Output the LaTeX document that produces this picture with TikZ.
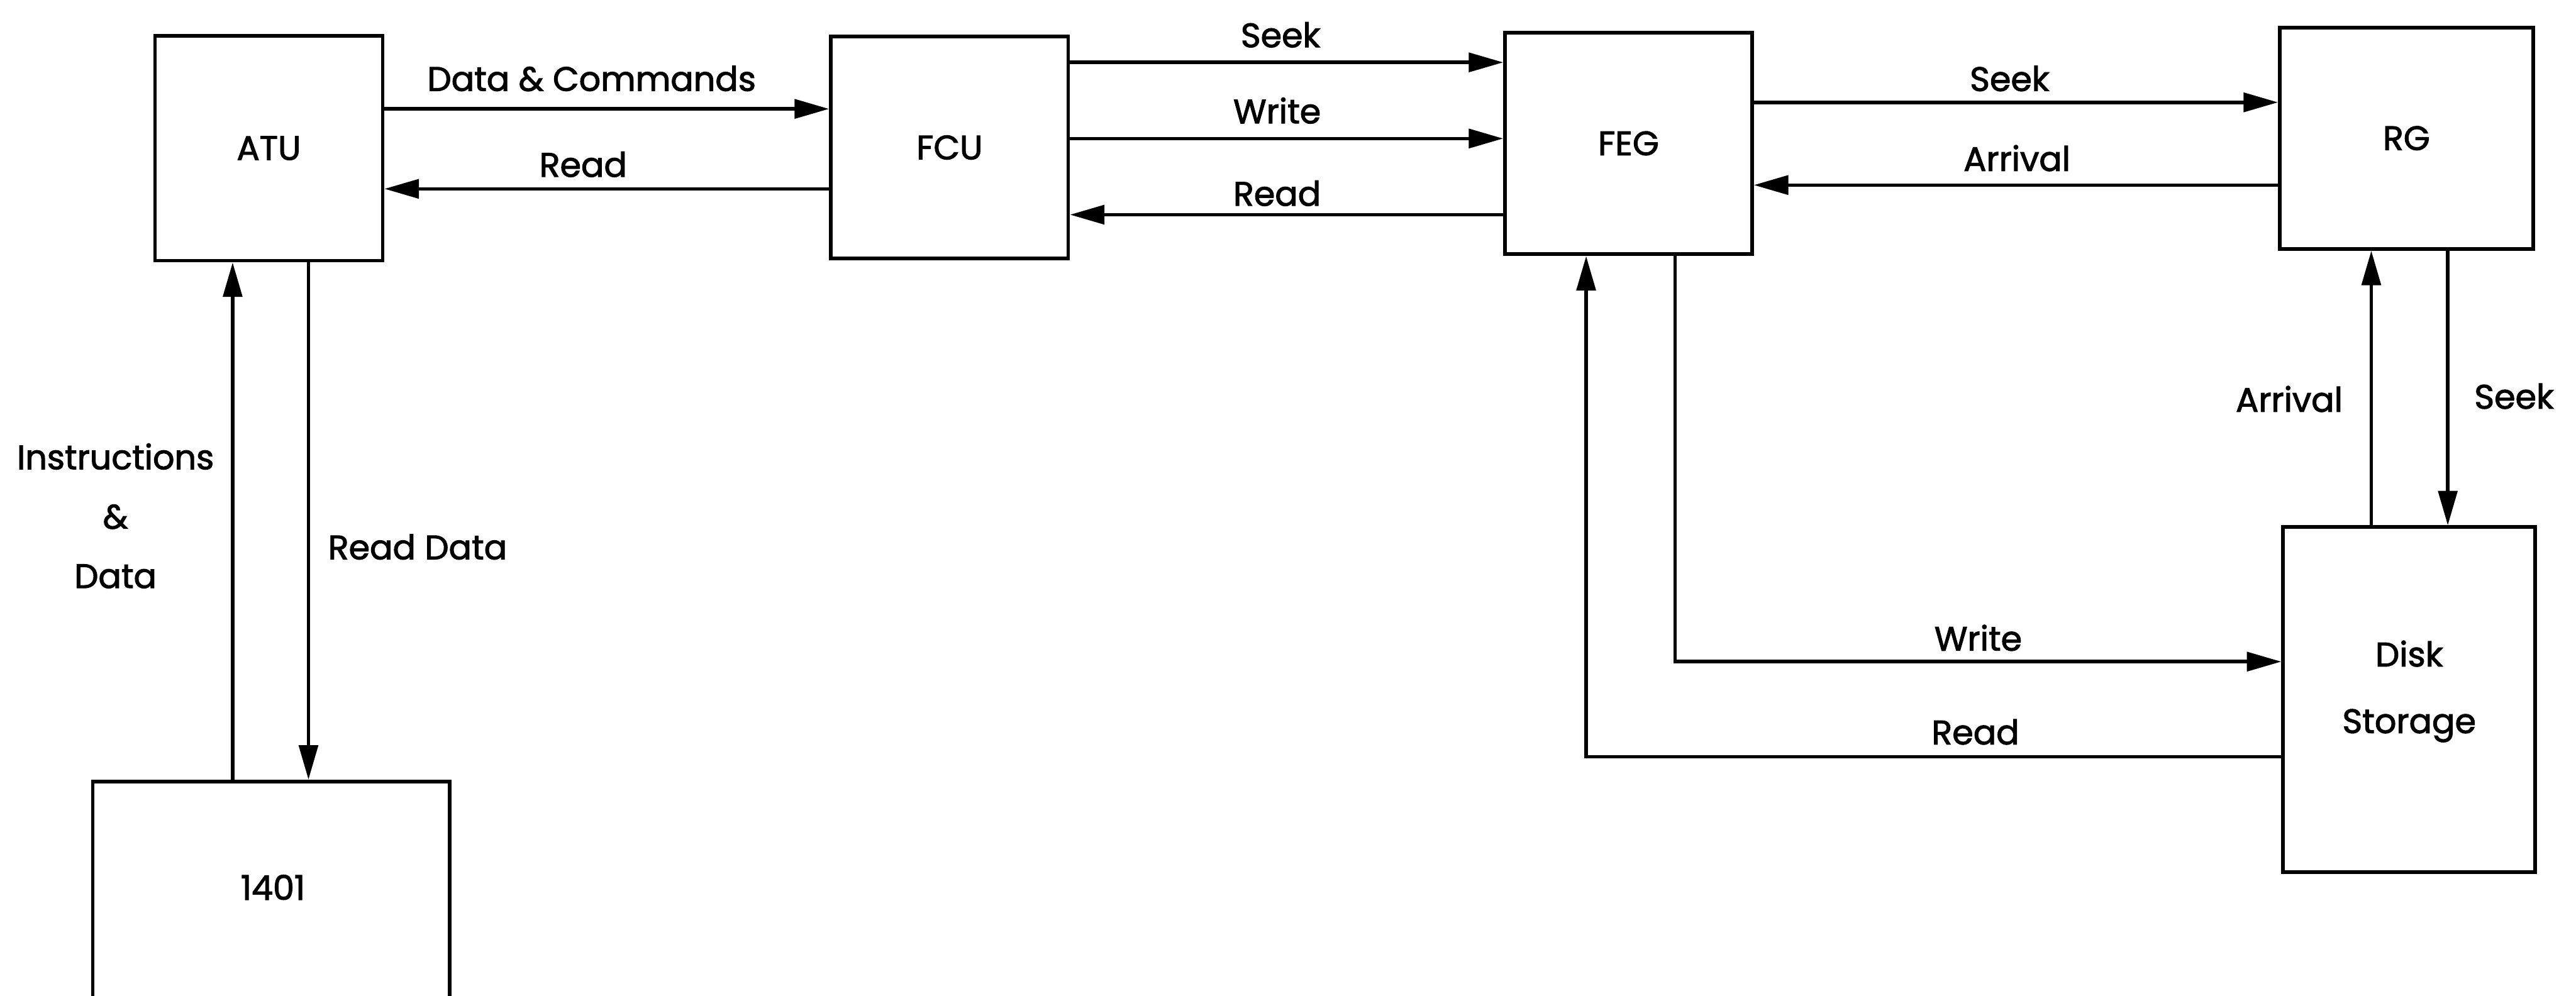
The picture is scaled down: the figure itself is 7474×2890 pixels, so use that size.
\documentclass[tikz,border=0pt]{standalone}
\usepackage{fontspec}
\setmainfont{Poppins}[FakeBold=2]
\usetikzlibrary{arrows.meta}
\begin{document}
\begin{tikzpicture}[x=0.01cm,y=-0.01cm,
  txt/.style={font=\fontsize{28}{34}\selectfont},
  box/.style={draw, line width=3pt, inner sep=0pt, txt},
  lab/.style={inner sep=0pt, txt},
  conn/.style={line width=2.9pt},
  arr/.style={conn, -{Triangle[length=1cm,width=0.55cm]}}]
\path[use as bounding box, clip] (0,0) rectangle (7474,2890);
\fill[white] (0,0) rectangle (7474,2890);
% boxes
\node[box, minimum width=6.6cm,  minimum height=6.52cm] (ATU)  at (780,430)  {ATU};
\node[box, minimum width=6.88cm, minimum height=6.43cm] (FCU)  at (2755,428) {FCU};
\node[box, minimum width=7.16cm, minimum height=6.43cm] (FEG)  at (4725,416) {FEG};
\node[box, minimum width=7.34cm, minimum height=6.42cm] (RG)   at (6982,401) {RG};
\node[box, minimum width=7.31cm, minimum height=10cm, align=center] (Disk) at (6990,2030) {Disk\\[21pt]Storage\\[-13pt]\mbox{}};
\node[box, minimum width=10.35cm, minimum height=8.32cm] (n1401) at (787,2684) {};
\node[lab] (t1401) at (792,2575) {1401};
% ATU <-> FCU
\draw[arr] (ATU.east |- 0,316) -- node[lab, above=0.46cm, pos=0.466] {Data \& Commands} (FCU.west |- 0,316);
\draw[arr] (FCU.west |- 0,548) -- node[lab, above=0.29cm, pos=0.553] {Read} (ATU.east |- 0,548);
% FCU <-> FEG
\draw[arr] (FCU.east |- 0,181) -- node[lab, above=0.38cm, pos=0.486] {Seek} (FEG.west |- 0,181);
\draw[arr] (FCU.east |- 0,402) -- node[lab, above=0.38cm, pos=0.478] {Write} (FEG.west |- 0,402);
\draw[arr] (FEG.west |- 0,623) -- node[lab, above=0.2cm, pos=0.522] {Read} (FCU.east |- 0,623);
% FEG <-> RG
\draw[arr] (FEG.east |- 0,297) -- node[lab, above=0.27cm, pos=0.488] {Seek} (RG.west |- 0,297);
\draw[arr] (RG.west |- 0,537) -- node[lab, above=0.35cm, pos=0.498] {Arrival} (FEG.east |- 0,537);
% RG <-> Disk
\draw[arr] (Disk.north -| 6880,0) -- node[lab, left=0.78cm, pos=0.46] {Arrival} (RG.south -| 6880,0);
\draw[arr] (RG.south -| 7102,0) -- node[lab, right=0.72cm, pos=0.53] {Seek} (Disk.north -| 7102,0);
% FEG <-> Disk
\draw[arr] (FEG.south -| 4860,0) |- node[lab, above=0.26cm, pos=0.75] {Write} (Disk.west |- 0,1920);
\draw[arr] (Disk.west |- 0,2196) -| node[lab, above=0.3cm, pos=0.22] {Read} (FEG.south -| 4602,0);
% 1401 <-> ATU
\draw[arr] (n1401.north -| 675,0) -- node[lab, left=0.49cm, pos=0.51, align=center] {Instructions\\[15pt]\&\\[15pt]Data} (ATU.south -| 675,0);
\draw[arr] (ATU.south -| 895,0) -- node[lab, right=0.52cm, pos=0.55] {Read Data} (n1401.north -| 895,0);
\end{tikzpicture}
\end{document}
